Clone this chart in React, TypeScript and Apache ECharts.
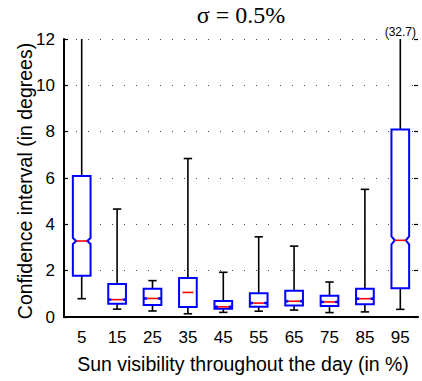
import React, { useEffect, useRef } from "react";
import * as echarts from "echarts";

const categories = ["5", "15", "25", "35", "45", "55", "65", "75", "85", "95"];
const lowerWhisker = [0.79, 0.34, 0.26, 0.14, 0.2, 0.25, 0.3, 0.19, 0.22, 0.33];
const q1 = [1.78, 0.57, 0.52, 0.43, 0.36, 0.44, 0.5, 0.47, 0.55, 1.24];
const medians = [3.28, 0.75, 0.8, 1.06, 0.44, 0.6, 0.68, 0.65, 0.79, 3.31];
const q3 = [6.09, 1.42, 1.22, 1.68, 0.69, 1.02, 1.13, 0.92, 1.22, 8.09];
const upperWhisker = [14, 4.66, 1.57, 6.84, 1.93, 3.46, 3.06, 1.51, 5.51, 32.7];
const notchHalf = [0.13, 0.03, 0.03, 0.0, 0.03, 0.03, 0.03, 0.03, 0.03, 0.17];
const offScaleLabels = ["", "", "", "", "", "", "", "", "", "(32.7)"];
const yTicks = [0, 2, 4, 6, 8, 10, 12];

const Y_MIN = yTicks[0];
const Y_MAX = yTicks[yTicks.length - 1];
const FONT = "Liberation Sans";

export default function App() {
  const ref = useRef<HTMLDivElement>(null);
  useEffect(() => {
    if (!ref.current) return;
    const chart = echarts.init(ref.current, null, { renderer: "svg" });
    const boxData = categories.map((_, i) => [
      i,
      lowerWhisker[i],
      q1[i],
      medians[i],
      q3[i],
      upperWhisker[i],
      notchHalf[i],
    ]);
    const labelData = categories.map((_, i) => [i, upperWhisker[i]]);

    const renderBox = (params: any, api: any) => {
      const i = api.value(0);
      const lw = api.value(1);
      const a = api.value(2);
      const m = api.value(3);
      const b = api.value(4);
      const uw = api.value(5);
      const n = api.value(6);
      const x = api.coord([i, m])[0];
      const y = (v: number) => api.coord([i, v])[1];
      const band = api.size([1, 0])[0];
      const h = band * 0.25;
      const inset = h * 0.38;
      const cap = 4.2;
      const black = { stroke: "#000", lineWidth: 1.6, fill: null };
      const children: any[] = [
        { type: "line", shape: { x1: x, y1: y(b), x2: x, y2: y(uw) }, style: black },
        { type: "line", shape: { x1: x - cap, y1: y(uw), x2: x + cap, y2: y(uw) }, style: black },
        { type: "line", shape: { x1: x, y1: y(a), x2: x, y2: y(lw) }, style: black },
        { type: "line", shape: { x1: x - cap, y1: y(lw), x2: x + cap, y2: y(lw) }, style: black },
      ];
      if (n > 0) {
        children.push({
          type: "polygon",
          shape: {
            points: [
              [x - h, y(a)],
              [x + h, y(a)],
              [x + h, y(m - n)],
              [x + h - inset, y(m)],
              [x + h, y(m + n)],
              [x + h, y(b)],
              [x - h, y(b)],
              [x - h, y(m + n)],
              [x - h + inset, y(m)],
              [x - h, y(m - n)],
            ],
          },
          style: { stroke: "#0000ff", lineWidth: 2, fill: "#fff" },
        });
      } else {
        children.push({
          type: "rect",
          shape: { x: x - h, y: y(b), width: 2 * h, height: y(a) - y(b) },
          style: { stroke: "#0000ff", lineWidth: 2, fill: "#fff" },
        });
      }
      children.push({
        type: "line",
        shape: { x1: x - h + inset, y1: y(m), x2: x + h - inset, y2: y(m) },
        style: { stroke: "#ff0000", lineWidth: 1.6 },
      });
      return { type: "group", children };
    };

    const renderLabel = (params: any, api: any) => {
      const i = api.value(0);
      const uw = api.value(1);
      const txt = offScaleLabels[i];
      if (!txt || uw <= Y_MAX) return null;
      const p = api.coord([i, Y_MAX]);
      const band = api.size([1, 0])[0];
      return {
        type: "text",
        x: p[0] + band / 2 - 2,
        y: p[1] - 1,
        style: {
          text: txt,
          textAlign: "right",
          textVerticalAlign: "bottom",
          fontSize: 12,
          fontFamily: FONT,
          fill: "#000",
        },
      };
    };

    chart.setOption({
      animation: false,
      backgroundColor: "#fff",
      grid: { left: 64, right: 4, top: 39, bottom: 64 },
      graphic: [
        {
          type: "text",
          x: 241,
          y: 15,
          style: {
            text: "σ = 0.5%",
            textAlign: "center",
            textVerticalAlign: "middle",
            fontSize: 24,
            fontFamily: "Liberation Serif",
            fill: "#000",
          },
        },
        {
          type: "text",
          x: 243,
          y: 364,
          style: {
            text: "Sun visibility throughout the day (in %)",
            textAlign: "center",
            textVerticalAlign: "middle",
            fontSize: 19.5,
            fontFamily: FONT,
            fill: "#000",
          },
        },
        {
          type: "text",
          x: 25,
          y: 181,
          rotation: Math.PI / 2,
          style: {
            text: "Confidence interval (in degrees)",
            textAlign: "center",
            textVerticalAlign: "middle",
            fontSize: 19.5,
            fontFamily: FONT,
            fill: "#000",
          },
        },
      ],
      xAxis: [
        {
          type: "category",
          data: categories,
          position: "bottom",
          axisLine: { lineStyle: { color: "#000", width: 2 } },
          axisTick: { alignWithLabel: true, inside: true, length: 4, lineStyle: { color: "#000", width: 1.2 } },
          axisLabel: { color: "#000", fontSize: 17, fontFamily: FONT, margin: 12 },
          splitLine: { show: false },
        },
        {
          type: "category",
          data: categories,
          position: "top",
          axisLine: { lineStyle: { color: "#000", width: 1.5 } },
          axisTick: { alignWithLabel: true, inside: true, length: 4, lineStyle: { color: "#000", width: 1.2 } },
          axisLabel: { show: false },
          splitLine: { show: false },
        },
      ],
      yAxis: [
        {
          type: "value",
          min: Y_MIN,
          max: Y_MAX,
          interval: 2,
          position: "left",
          axisLine: { show: true, lineStyle: { color: "#000", width: 2 } },
          axisTick: { show: true, inside: true, length: 4, lineStyle: { color: "#000", width: 1.2 } },
          axisLabel: { color: "#000", fontSize: 17, fontFamily: FONT, margin: 9 },
          splitLine: { show: true, lineStyle: { color: "#444", width: 1, type: [1, 11] } },
        },
        {
          type: "value",
          min: Y_MIN,
          max: Y_MAX,
          interval: 2,
          position: "right",
          axisLine: { show: false },
          axisTick: { show: true, inside: true, length: 4, lineStyle: { color: "#000", width: 1.2 } },
          axisLabel: { show: false },
          splitLine: { show: false },
        },
      ],
      series: [
        {
          type: "custom",
          xAxisIndex: 0,
          yAxisIndex: 0,
          clip: true,
          renderItem: renderBox,
          data: boxData,
          encode: { x: 0, y: [1, 2, 3, 4, 5] },
          z: 3,
        },
        {
          type: "custom",
          xAxisIndex: 0,
          yAxisIndex: 0,
          clip: false,
          renderItem: renderLabel,
          data: labelData,
          encode: { x: 0, y: 1 },
          z: 4,
        },
      ],
    });
    return () => chart.dispose();
  }, []);
  return <div ref={ref} style={{ width: 422, height: 381, position: "absolute", left: 0, top: 0 }} />;
}
